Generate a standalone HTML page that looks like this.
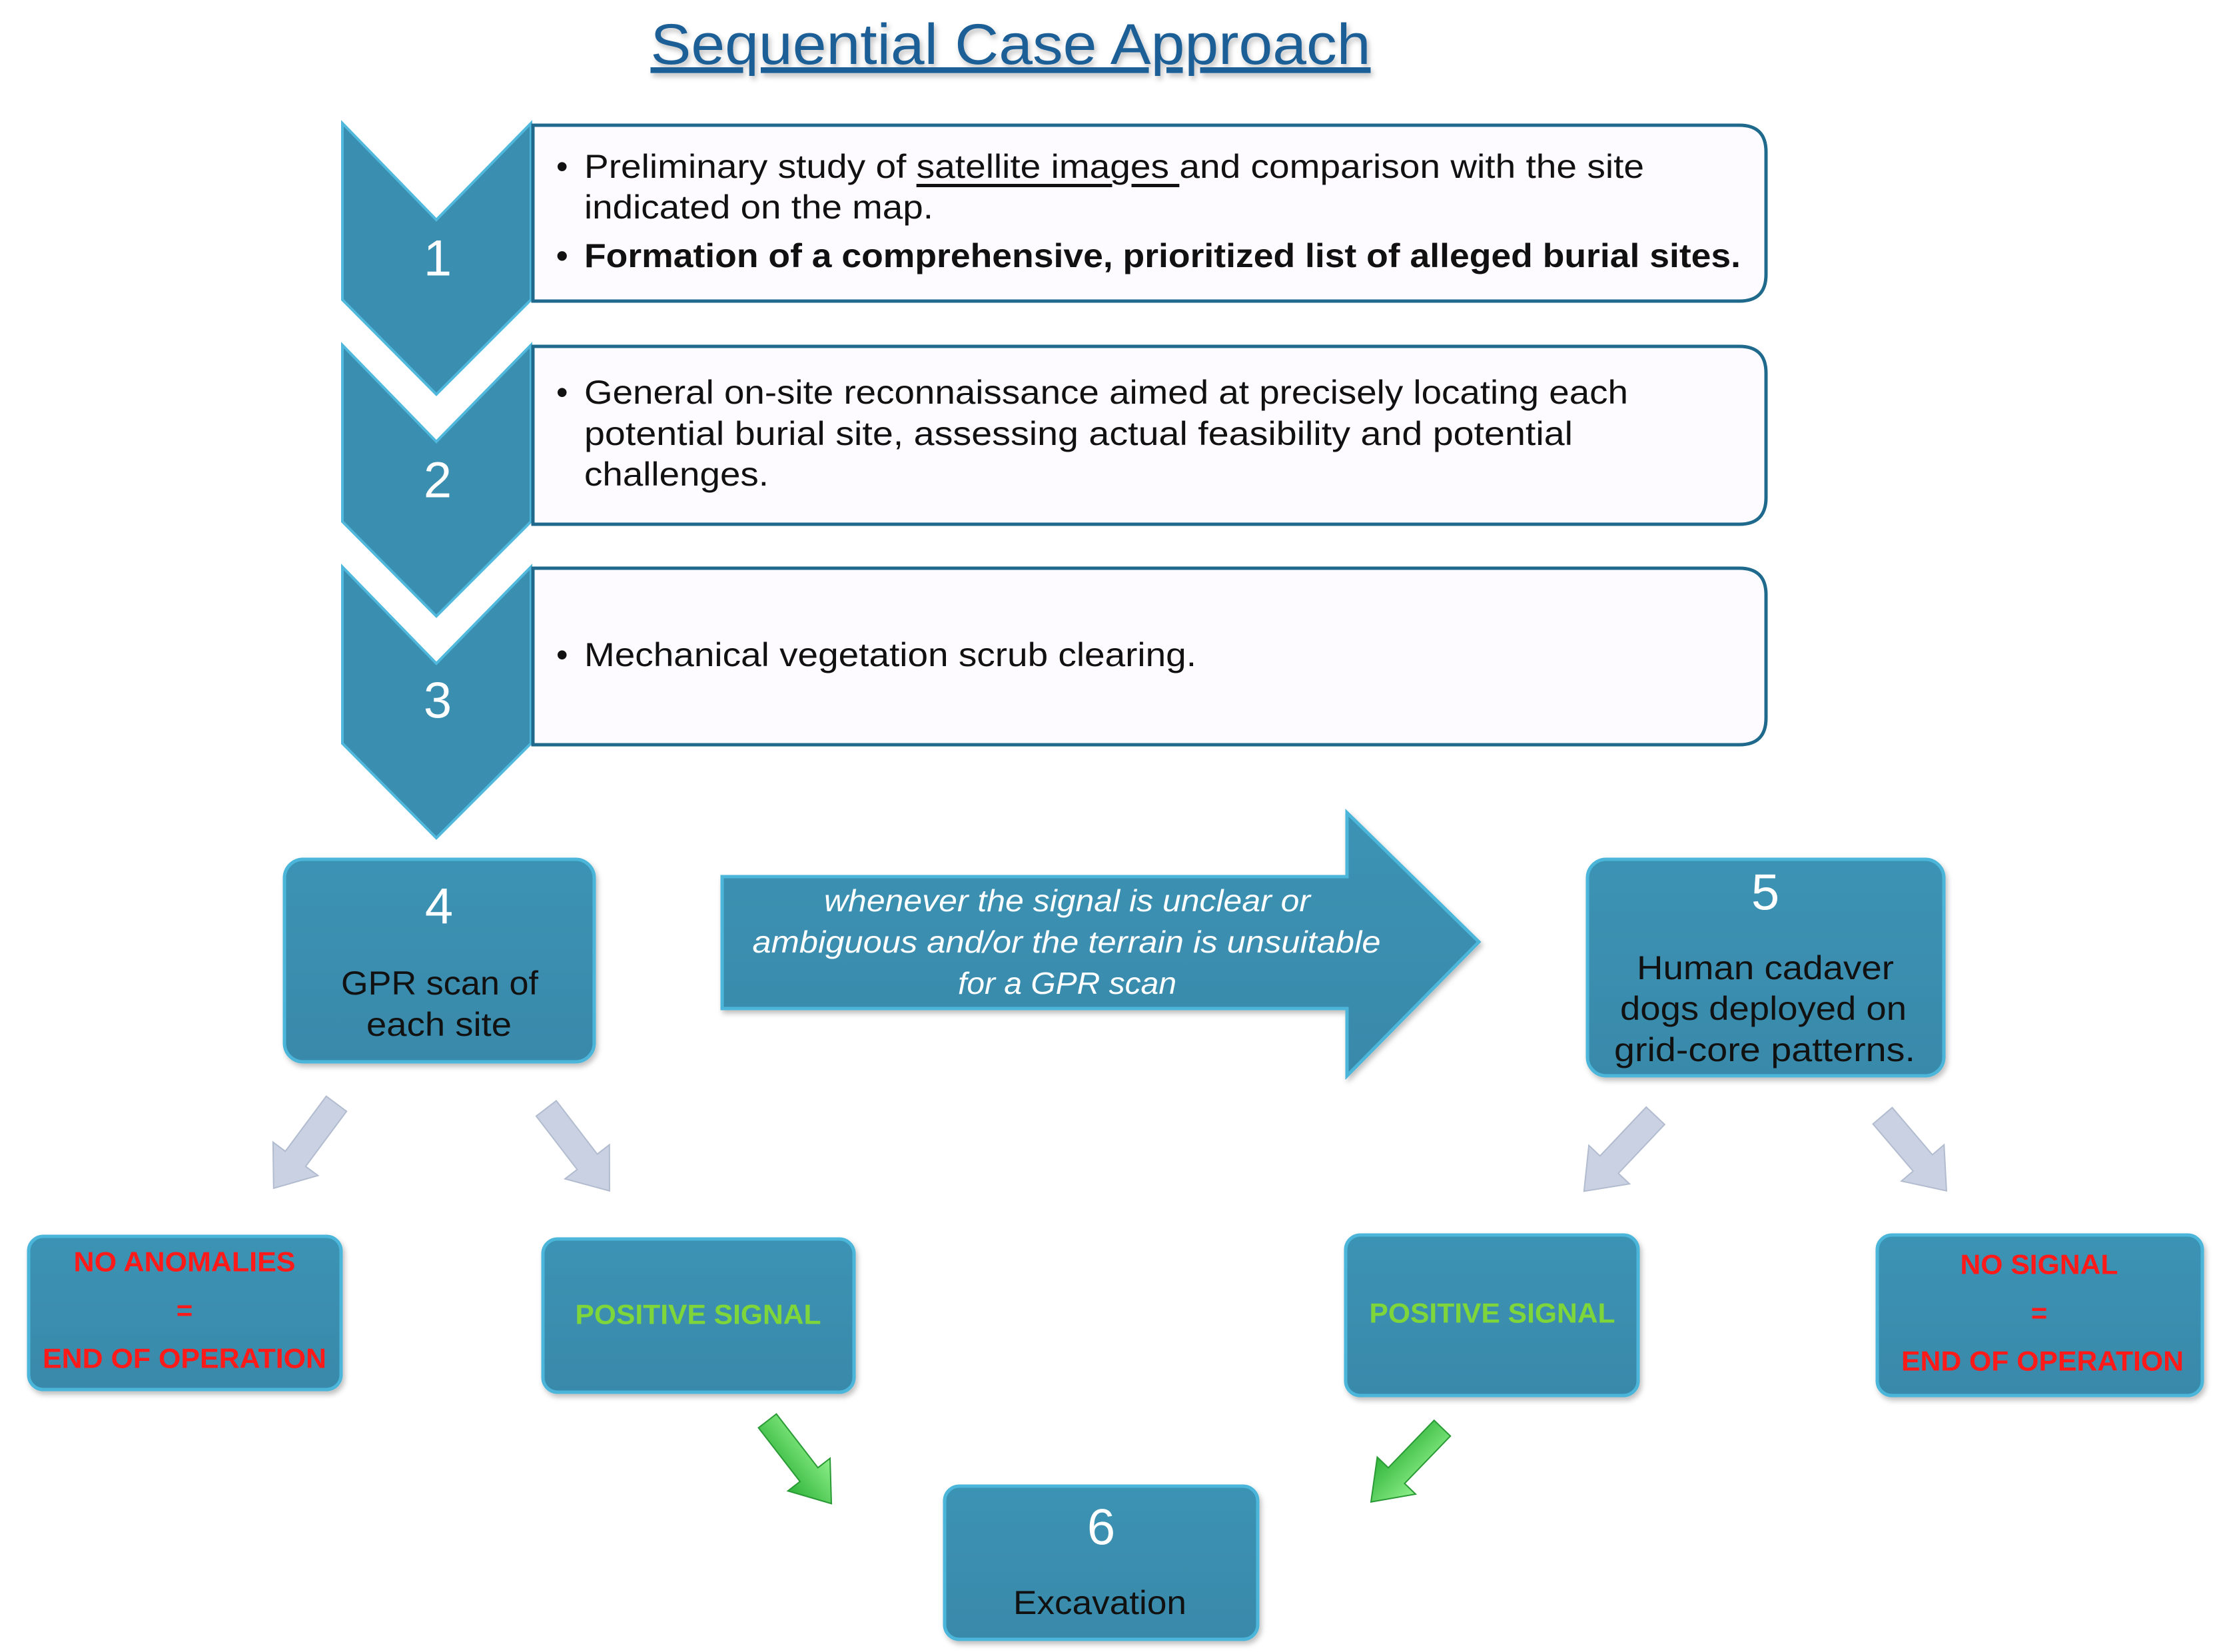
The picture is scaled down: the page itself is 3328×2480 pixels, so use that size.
<!DOCTYPE html>
<html><head><meta charset="utf-8"><style>html,body{margin:0;padding:0;background:#fff}svg{display:block}</style></head>
<body>
<svg width="3328" height="2480" viewBox="0 0 3328 2480" xmlns="http://www.w3.org/2000/svg" font-family="Liberation Sans, sans-serif">
<defs>
<linearGradient id="bx" x1="0" y1="0" x2="0" y2="1"><stop offset="0" stop-color="#3b93b4"/><stop offset="1" stop-color="#3989aa"/></linearGradient>
<linearGradient id="gr" x1="0" y1="0" x2="0" y2="1"><stop offset="0" stop-color="#8ef08a"/><stop offset="1" stop-color="#2fb33a"/></linearGradient>
<filter id="sh" x="-10%" y="-10%" width="120%" height="130%"><feDropShadow dx="3" dy="5" stdDeviation="4" flood-color="#000" flood-opacity="0.25"/></filter>
</defs>
<text x="1517" y="96" text-anchor="middle" font-size="86" fill="#1d5f97" textLength="1081" lengthAdjust="spacingAndGlyphs" text-decoration="underline" filter="url(#sh)">Sequential Case Approach</text>

<!-- chevrons -->
<g fill="#3a8fb0" stroke="#4fb8dc" stroke-width="4">
<path d="M514,185 L655,330 L797,185 L797,450 L655,592 L514,450 Z"/>
<path d="M514,518 L655,663 L797,518 L797,783 L655,925 L514,783 Z"/>
<path d="M514,851 L655,996 L797,851 L797,1116 L655,1258 L514,1116 Z"/>
</g>
<g fill="#fff" font-size="76" text-anchor="middle" dominant-baseline="central">
<text x="657" y="388">1</text><text x="657" y="721">2</text><text x="657" y="1052">3</text>
</g>

<!-- text boxes -->
<g fill="#fdfbff" stroke="#1f6a8c" stroke-width="5">
<path d="M800,188 H2611 Q2651,188 2651,228 V412 Q2651,452 2611,452 H800 Z"/>
<path d="M800,520 H2611 Q2651,520 2651,560 V747 Q2651,787 2611,787 H800 Z"/>
<path d="M800,853 H2611 Q2651,853 2651,893 V1078 Q2651,1118 2611,1118 H800 Z"/>
</g>
<g font-size="50" fill="#111" dominant-baseline="central">
<text x="835" y="250">•</text>
<text x="877" y="250" textLength="1591" lengthAdjust="spacingAndGlyphs">Preliminary study of <tspan text-decoration="underline">satellite images </tspan>and comparison with the site</text>
<text x="877" y="311" textLength="524" lengthAdjust="spacingAndGlyphs">indicated on the map.</text>
<text x="835" y="384" font-weight="bold">•</text>
<text x="877" y="384" font-weight="bold" textLength="1736" lengthAdjust="spacingAndGlyphs">Formation of a comprehensive, prioritized list of alleged burial sites.</text>
<text x="835" y="589">•</text>
<text x="877" y="589" textLength="1567" lengthAdjust="spacingAndGlyphs">General on-site reconnaissance aimed at precisely locating each</text>
<text x="877" y="651" textLength="1484" lengthAdjust="spacingAndGlyphs">potential burial site, assessing actual feasibility and potential</text>
<text x="877" y="712" textLength="277" lengthAdjust="spacingAndGlyphs">challenges.</text>
<text x="835" y="983">•</text>
<text x="877" y="983" textLength="919" lengthAdjust="spacingAndGlyphs">Mechanical vegetation scrub clearing.</text>
</g>

<!-- blue boxes -->
<g fill="url(#bx)" stroke="#4cb6da" stroke-width="5" filter="url(#sh)">
<rect x="427" y="1290" width="465" height="304" rx="28"/>
<rect x="2383" y="1290" width="535" height="325" rx="28"/>
<rect x="43" y="1856" width="469" height="230" rx="22"/>
<rect x="815" y="1860" width="467" height="230" rx="22"/>
<rect x="2020" y="1854" width="439" height="241" rx="22"/>
<rect x="2818" y="1854" width="488" height="241" rx="22"/>
<rect x="1418" y="2231" width="470" height="230" rx="22"/>
<path d="M1084,1316 H2022 V1220 L2220,1414 L2022,1615 V1514 H1084 Z" rx="0"/>
</g>

<g fill="#fff" text-anchor="middle" dominant-baseline="central">
<text x="659" y="1361" font-size="76">4</text>
<text x="2650" y="1340" font-size="76">5</text>
<text x="1653" y="2293" font-size="76">6</text>
<g font-size="46" font-style="italic">
<text x="1602" y="1352" textLength="730" lengthAdjust="spacingAndGlyphs">whenever the signal is unclear or</text>
<text x="1601" y="1414" textLength="943" lengthAdjust="spacingAndGlyphs">ambiguous and/or the terrain is unsuitable</text>
<text x="1602" y="1476" textLength="328" lengthAdjust="spacingAndGlyphs">for a GPR scan</text>
</g>
</g>
<g fill="#111" font-size="50" text-anchor="middle" dominant-baseline="central">
<text x="660" y="1476" textLength="296" lengthAdjust="spacingAndGlyphs">GPR scan of</text>
<text x="659" y="1538" textLength="218" lengthAdjust="spacingAndGlyphs">each site</text>
<text x="2650" y="1453" textLength="386" lengthAdjust="spacingAndGlyphs">Human cadaver</text>
<text x="2647" y="1514" textLength="430" lengthAdjust="spacingAndGlyphs">dogs deployed on</text>
<text x="2649" y="1576" textLength="452" lengthAdjust="spacingAndGlyphs">grid-core patterns.</text>
<text x="1651" y="2406" textLength="260" lengthAdjust="spacingAndGlyphs">Excavation</text>
</g>
<g font-size="42" font-weight="bold" text-anchor="middle" dominant-baseline="central">
<g fill="#ff1a1a">
<text x="277" y="1894" textLength="333" lengthAdjust="spacingAndGlyphs">NO ANOMALIES</text>
<text x="277" y="1967">=</text>
<text x="277" y="2039" textLength="426" lengthAdjust="spacingAndGlyphs">END OF OPERATION</text>
<text x="3061" y="1898" textLength="237" lengthAdjust="spacingAndGlyphs">NO SIGNAL</text>
<text x="3061" y="1971">=</text>
<text x="3066" y="2043" textLength="424" lengthAdjust="spacingAndGlyphs">END OF OPERATION</text>
</g>
<g fill="#7fd63a">
<text x="1048" y="1973" textLength="369" lengthAdjust="spacingAndGlyphs">POSITIVE SIGNAL</text>
<text x="2240" y="1971" textLength="369" lengthAdjust="spacingAndGlyphs">POSITIVE SIGNAL</text>
</g>
</g>

<!-- gray arrows -->
<g fill="#c9d1e2" stroke="#b2bccf" stroke-width="2">
<path transform="translate(505,1657) rotate(126.6)" d="M0,-19 L103,-19 L103,-42 L158,0 L103,42 L103,19 L0,19 Z"/>
<path transform="translate(820,1664) rotate(52.5)" d="M0,-19 L101,-19 L101,-42 L156,0 L101,42 L101,19 L0,19 Z"/>
<path transform="translate(2485,1675) rotate(133.4)" d="M0,-19 L101,-19 L101,-42 L156,0 L101,42 L101,19 L0,19 Z"/>
<path transform="translate(2826,1675) rotate(49.6)" d="M0,-19 L93,-19 L93,-42 L148,0 L93,42 L93,19 L0,19 Z"/>
</g>
<g fill="url(#gr)" stroke="#2a9a35" stroke-width="2">
<path transform="translate(1152,2133) rotate(52.3)" d="M0,-17 L102,-17 L102,-40 L157,0 L102,40 L102,17 L0,17 Z"/>
<path transform="translate(2165,2144) rotate(134)" d="M0,-17 L99,-17 L99,-40 L154,0 L99,40 L99,17 L0,17 Z"/>
</g>
</svg>
</body></html>
